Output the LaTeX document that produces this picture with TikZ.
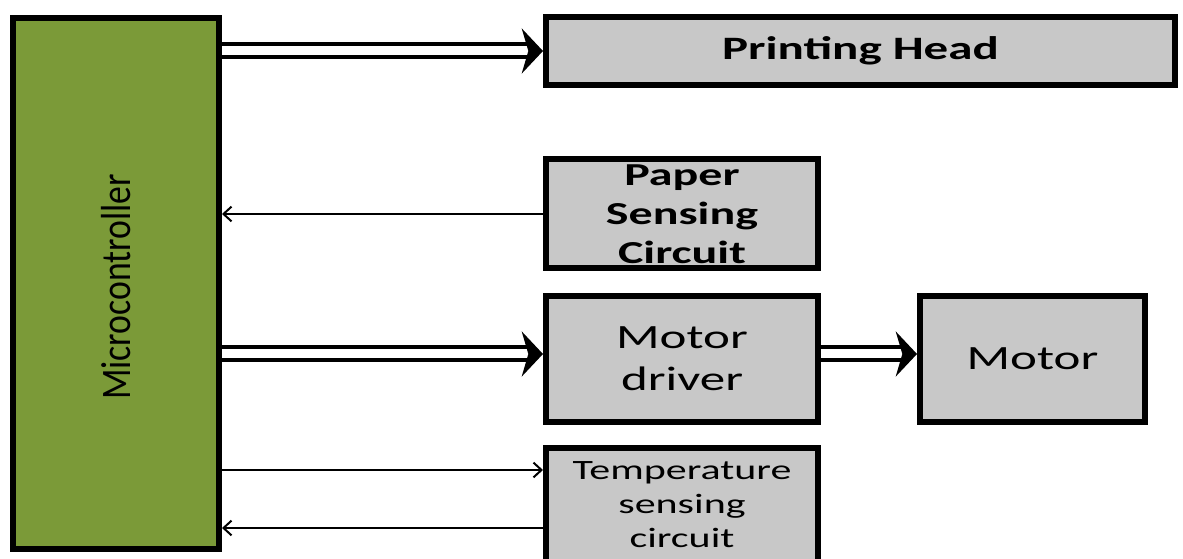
\documentclass[tikz,border=0pt]{standalone}
\usepackage{fontspec}
\usepackage{tikz}
\usetikzlibrary{arrows.meta, positioning, calc}
\newfontfamily\boxfont[FakeStretch=1.5]{Carlito}
\newfontfamily\ctrlfont[FakeStretch=0.85]{Carlito}
\definecolor{ctrlgreen}{RGB}{123, 154, 56}
\definecolor{blockgray}{RGB}{200, 200, 200}

\begin{document}
\begin{tikzpicture}[x=0.75pt, y=-0.75pt,
    block/.style={rectangle, draw=black, line width=4.5pt, fill=blockgray, align=center, inner sep=0pt},
    bus/.style={double, double distance=6.75pt, line width=3pt, -{Stealth[length=16pt, width=34pt, inset=5pt, line width=0pt]}},
    sig/.style={line width=1.5pt, -{Straight Barb[length=6pt, width=11pt]}}]
        \useasboundingbox (0,0) rectangle (1183,559);
        \fill[white] (0,0) rectangle (1183,559);

        % Controller
        \node[block, fill=ctrlgreen, minimum width=154.5pt, minimum height=398pt] (mcu) at (116,283.5) {};
        \node[rotate=90, font=\ctrlfont\fontsize{31.5}{36}\selectfont] (mcutext) at (116,287) {Microcontroller};

        % Blocks
        \node[block, minimum width=471.75pt, minimum height=51pt, font=\boxfont\bfseries\fontsize{24.5}{29}\selectfont] (head) at (860.5,51) {Printing Head};
        \node[block, minimum width=204pt, minimum height=81.75pt, font=\boxfont\bfseries\fontsize{24}{29.25}\selectfont] (paper) at (682,214) {Paper\\Sensing\\Circuit};
        \node[block, minimum width=204pt, minimum height=94.5pt, font=\boxfont\fontsize{25.5}{31.5}\selectfont] (driver) at (682,359) {Motor\\driver};
        \node[block, minimum width=168.75pt, minimum height=94.5pt, font=\boxfont\fontsize{25.5}{31.5}\selectfont] (motor) at (1032.5,359) {Motor};
        \node[block, minimum width=204pt, minimum height=85.5pt, font=\boxfont\fontsize{21}{25.5}\selectfont] (temp) at (682,505) {Temperature\\sensing\\circuit};

        % Port points
        \coordinate (drvin) at ([yshift=3.75pt]driver.west);
        \coordinate (drvout) at ([yshift=3.75pt]driver.east);
        \coordinate (motin) at ([yshift=3.75pt]motor.west);
        \coordinate (tempin) at ([yshift=26.25pt]temp.west);
        \coordinate (tempout) at ([yshift=-17.25pt]temp.west);

        % Buses
        \draw[bus] (mcu.east |- head.west) -- (head.west);
        \draw[bus] (mcu.east |- drvin) -- (drvin);
        \draw[bus] (drvout) -- (motin);

        % Signals
        \draw[sig] (paper.west) -- (mcu.east |- paper.west);
        \draw[sig] (mcu.east |- tempin) -- (tempin);
        \draw[sig] (tempout) -- (mcu.east |- tempout);
    \end{tikzpicture}
\end{document}
